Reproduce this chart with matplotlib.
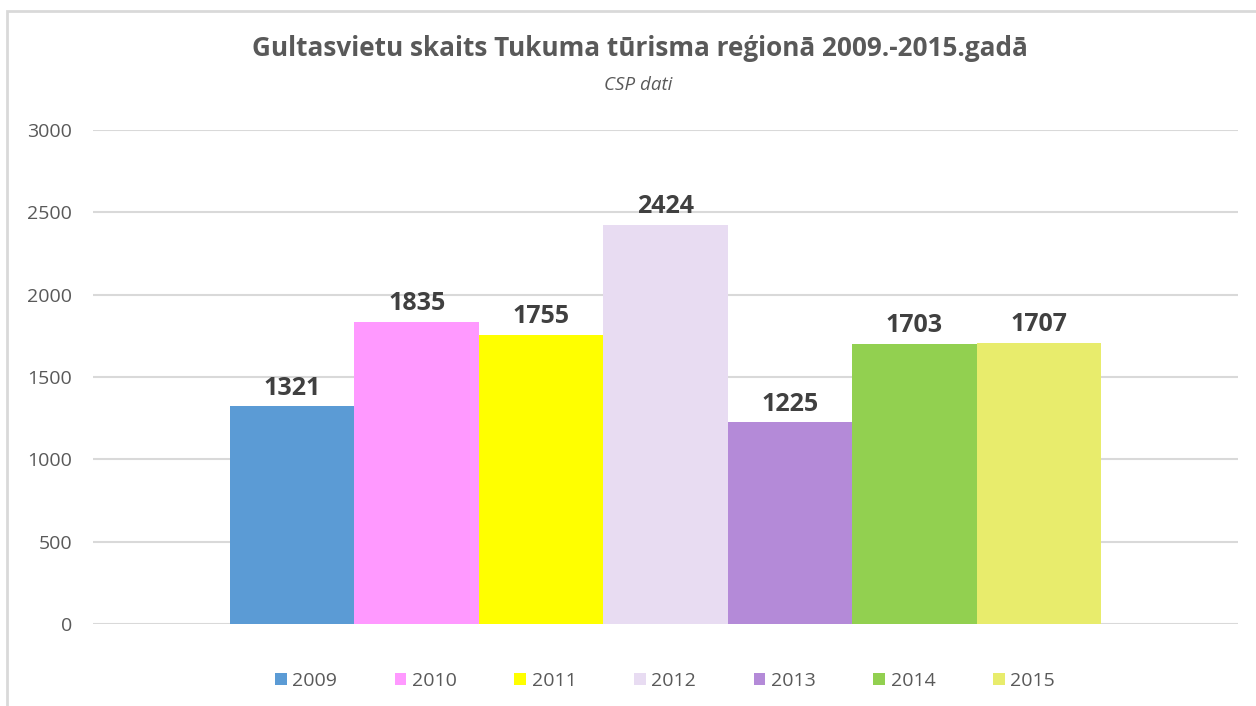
import matplotlib
matplotlib.use("Agg")
import matplotlib.pyplot as plt
from matplotlib.patches import Patch, Rectangle

years = ["2009", "2010", "2011", "2012", "2013", "2014", "2015"]
values = [1321, 1835, 1755, 2424, 1225, 1703, 1707]
colors = ["#5B9BD5", "#FF99FF", "#FFFF00", "#E8DCF2", "#B48AD8", "#92D050", "#E8EC6C"]
title = "Gultasvietu skaits Tukuma tūrisma reģionā 2009.-2015.gadā"
subtitle = "CSP dati"

plt.rcParams['font.family'] = ['Open Sans', 'DejaVu Sans']

fig = plt.figure(figsize=(12.56, 7.06), dpi=100)
fig.patch.set_facecolor("white")
# outer chart border
fig.add_artist(Rectangle((7/1256, -0.05), 1.2, 1 - 11/706 + 0.05, transform=fig.transFigure,
                         fill=False, edgecolor="#D9D9D9", linewidth=2))

ax = fig.add_axes([93/1256, 1 - 624/706, (1238 - 93)/1256, (624 - 130)/706])
x = list(range(len(years)))
bars = ax.bar(x, values, width=1.0, color=colors, zorder=3)
for xi, v in zip(x, values):
    ax.annotate(str(v), (xi, v), xytext=(0, 4), textcoords="offset points",
                ha="center", va="bottom", fontsize=18, fontweight="bold", color="#404040")

ax.set_xlim(-1.601, 7.601)
ax.set_ylim(0, 3000)
ax.set_yticks(range(0, 3001, 500))
ax.yaxis.grid(True, color="#D9D9D9", linewidth=1.5, zorder=0)
ax.set_xticks([])
for s in ax.spines.values():
    s.set_visible(False)
ax.tick_params(axis="y", length=0, labelsize=14, labelcolor="#595959", pad=15)

fig.text(0.5095, 1 - 48/706, title, ha="center", va="center", fontsize=18.8, fontweight="bold",
         color="#595959")
fig.text(0.508, 1 - 85.5/706, subtitle, ha="center", va="center", fontsize=13.5, style="italic",
         color="#595959")

handles = [Patch(facecolor=c, edgecolor="none") for c in colors]
fig.legend(handles, years, loc="center", bbox_to_anchor=(665/1256, 1 - 681/706), ncol=7,
           frameon=False, fontsize=14, handlelength=0.6, handleheight=0.6, handletextpad=0.3,
           columnspacing=2.95, labelcolor="#595959")

fig.savefig("out.png", dpi=100, facecolor="white")
